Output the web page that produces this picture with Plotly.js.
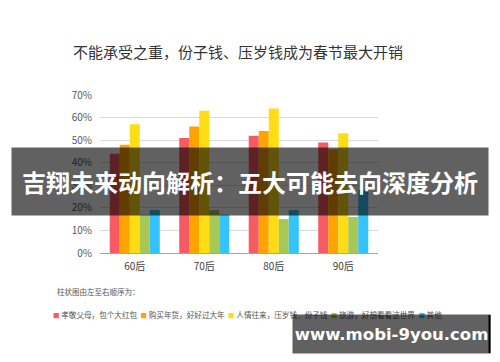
<!DOCTYPE html>
<html>
<head>
<meta charset="utf-8">
<script src="https://cdn.plot.ly/plotly-3.0.1.min.js"></script>
<style>html,body{margin:0;padding:0;background:#fff;}#chart{width:500px;height:362px;}</style>
</head>
<body>
<div id="chart"></div>
<script>
// ---- data ----
const categories = ['60后', '70后', '80后', '90后'];
const seriesNames = ['孝敬父母，包个大红包', '购买年货，好好过大年', '人情往来，压岁钱、份子钱', '旅游，好想看看这世界', '其他'];
const seriesColors = ['#f65a62', '#ffa300', '#ffdc14', '#a8c856', '#35c3fd'];
const redValues    = [0.44, 0.51, 0.52, 0.49];
const orangeValues = [0.48, 0.56, 0.54, 0.46];
const yellowValues = [0.57, 0.63, 0.64, 0.53];
const greenValues  = [0.17, 0.19, 0.15, 0.16];
const blueValues   = [0.19, 0.17, 0.19, 0.28];
const yTickValues  = [0, 0.1, 0.2, 0.3, 0.4, 0.5, 0.6, 0.7];
const titleText  = '不能承受之重，份子钱、压岁钱成为春节最大开销';
const captionText = '柱状图由左至右顺序为：';
const bannerText = '吉翔未来动向解析：五大可能去向深度分析';
const siteText   = 'www.mobi-9you.com';

const seriesValues = [redValues, orangeValues, yellowValues, greenValues, blueValues];

// plot area in pixels
const L = 100, R = 378, T = 95, B = 253, W = 500, H = 362;
const px = v => (v - L) / (R - L);
const py = v => (B - v) / (B - T);

const FONT = '"Noto Sans CJK SC", "Noto Sans", sans-serif';

const traces = seriesNames.map((n, i) => ({
  type: 'bar', name: n, x: categories, y: seriesValues[i],
  marker: {color: seriesColors[i], line: {width: 0}},
  hoverinfo: 'skip'
}));

const legendText = seriesNames.map((n, i) =>
  '<span style="color:' + seriesColors[i] + ';font-size:6.5px">■</span> ' + n
).join('&nbsp;&nbsp;');

const layout = {
  width: W, height: H,
  margin: {l: L, r: W - R, t: T, b: H - B, pad: 0},
  paper_bgcolor: '#ffffff', plot_bgcolor: '#ffffff',
  showlegend: false,
  barmode: 'group', bargap: 0.28, bargroupgap: 0,
  font: {family: FONT, color: '#595959'},
  title: {
    text: titleText, font: {family: FONT, size: 15, color: '#333333'},
    x: 238 / W, xanchor: 'center', xref: 'container',
    y: 1 - 53 / H, yanchor: 'middle', yref: 'container'
  },
  xaxis: {
    type: 'category', showgrid: false, zeroline: false,
    showline: true, linecolor: '#a6a6a6', linewidth: 1,
    ticks: '', tickfont: {family: FONT, size: 10, color: '#404040'},
    ticklabelstandoff: 4, fixedrange: true
  },
  yaxis: {
    range: [0, 0.7], tickvals: yTickValues, tickformat: '.0%',
    showgrid: true, gridcolor: '#d9d9d9', gridwidth: 1,
    zeroline: false, showline: false, ticks: '',
    tickfont: {family: FONT, size: 10, color: '#595959'},
    ticklabelstandoff: 7, fixedrange: true
  },
  annotations: [
    {text: captionText, xref: 'paper', yref: 'paper', x: px(55), y: py(291),
     xanchor: 'left', yanchor: 'middle', showarrow: false,
     font: {family: FONT, size: 7.5, color: '#555555'}},
    {text: legendText, xref: 'paper', yref: 'paper', x: px(51), y: py(314),
     xanchor: 'left', yanchor: 'middle', showarrow: false,
     font: {family: FONT, size: 7.6, color: '#555555'}},
    {text: '<b>' + bannerText + '</b>', xref: 'paper', yref: 'paper',
     x: px(250), y: py(181.5), xanchor: 'center', yanchor: 'middle',
     width: 476, height: 67, borderpad: 0, bgcolor: 'rgba(0,0,0,0.62)',
     showarrow: false, font: {family: FONT, size: 24, color: '#ffffff'}},
    {text: '<b>' + siteText + '</b>', xref: 'paper', yref: 'paper',
     x: px(391), y: py(334), xanchor: 'center', yanchor: 'middle',
     width: 197, height: 38, borderpad: 0, bgcolor: 'rgba(0,0,0,0.62)',
     showarrow: false, font: {family: '"DejaVu Sans", sans-serif', size: 16.5, color: '#ffffff'}}
  ],
  shapes: [
    {type: 'line', xref: 'paper', yref: 'paper', x0: px(489.5), x1: px(489.5),
     y0: py(315), y1: py(353), line: {color: '#000000', width: 2}, layer: 'above'}
  ]
};

Plotly.newPlot('chart', traces, layout, {displayModeBar: false, staticPlot: true});
</script>
</body>
</html>
